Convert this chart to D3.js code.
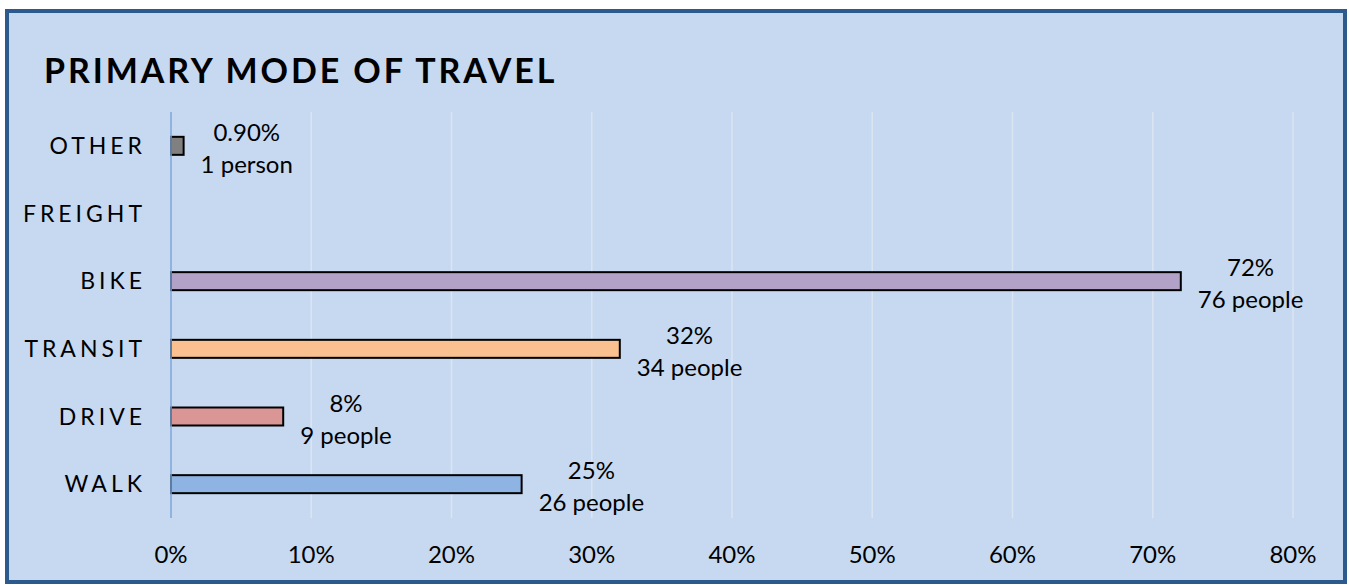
<!DOCTYPE html>
<html>
<head>
  <style>
    body { margin: 0; padding: 0; background: #ffffff; font-family: Lato, "Open Sans", sans-serif; }
    #chart { width: 1349px; height: 585px; }
  </style>
</head>
<body>
  <div id="chart"></div>
  <script src="https://cdnjs.cloudflare.com/ajax/libs/d3/7.8.5/d3.min.js"></script>
  <script>
    // data
    const categories = ['OTHER', 'FREIGHT', 'BIKE', 'TRANSIT', 'DRIVE', 'WALK'];
    const shares = [0.9, 0, 72, 32, 8, 25];
    const pctLabels = ['0.90%', '', '72%', '32%', '8%', '25%'];
    const peopleLabels = ['1 person', '', '76 people', '34 people', '9 people', '26 people'];
    const barColors = ['#808080', '#b3a2c7', '#b3a2c7', '#fac090', '#d99694', '#8eb4e3'];
    const ticks = [0, 10, 20, 30, 40, 50, 60, 70, 80];

    const width = 1349, height = 585;
    const svg = d3.select('#chart').append('svg')
      .attr('width', width)
      .attr('height', height);

    // frame
    svg.append('rect')
      .attr('x', 7).attr('y', 11)
      .attr('width', 1338).attr('height', 571)
      .attr('fill', '#c6d9f1')
      .attr('stroke', '#2c5a8c')
      .attr('stroke-width', 4);

    svg.append('text')
      .attr('x', 44).attr('y', 83)
      .attr('font-size', 34)
      .attr('font-weight', 'bold')
      .attr('letter-spacing', 2.9)
      .attr('fill', '#000')
      .text('PRIMARY MODE OF TRAVEL');

    const x = d3.scaleLinear().domain([0, 80]).range([171, 1293]);
    const y = d3.scaleBand().domain(categories).range([112, 518]);
    const mid = d => y(d) + y.bandwidth() / 2;

    // gridlines
    svg.append('g').selectAll('line')
      .data(ticks.slice(1))
      .join('line')
      .attr('x1', d => x(d)).attr('x2', d => x(d))
      .attr('y1', 112).attr('y2', 518)
      .attr('stroke', '#dbe5f2')
      .attr('stroke-width', 1.5);

    // tick labels
    svg.append('g').selectAll('text')
      .data(ticks)
      .join('text')
      .attr('x', d => x(d))
      .attr('y', 563)
      .attr('text-anchor', 'middle')
      .attr('font-size', 24)
      .attr('fill', '#000')
      .text(d => d + '%');

    // category labels
    svg.append('g').selectAll('text')
      .data(categories)
      .join('text')
      .attr('x', 146)
      .attr('y', d => mid(d) + 8)
      .attr('text-anchor', 'end')
      .attr('font-size', 23)
      .attr('letter-spacing', 4)
      .attr('fill', '#000')
      .text(d => d);

    // bars
    const barH = 18;
    const shown = categories.filter((c, i) => shares[i] > 0);
    svg.append('g').selectAll('rect')
      .data(shown)
      .join('rect')
      .attr('x', x(0))
      .attr('y', d => mid(d) - barH / 2)
      .attr('width', d => x(shares[categories.indexOf(d)]) - x(0))
      .attr('height', barH)
      .attr('fill', d => barColors[categories.indexOf(d)])
      .attr('stroke', '#000')
      .attr('stroke-width', 2);

    // axis line at 0
    svg.append('line')
      .attr('x1', x(0)).attr('x2', x(0))
      .attr('y1', 112).attr('y2', 518)
      .attr('stroke', '#7ea6d8')
      .attr('stroke-width', 1.5);

    // value labels: two centred lines, box starts a little right of the bar end
    const lbl = svg.append('g').selectAll('g')
      .data(shown)
      .join('g');
    lbl.append('text')
      .attr('class', 'l1')
      .attr('y', -5)
      .attr('text-anchor', 'middle')
      .attr('font-size', 24)
      .attr('fill', '#000')
      .text(d => pctLabels[categories.indexOf(d)]);
    lbl.append('text')
      .attr('class', 'l2')
      .attr('y', 27)
      .attr('text-anchor', 'middle')
      .attr('font-size', 24)
      .attr('fill', '#000')
      .text(d => peopleLabels[categories.indexOf(d)]);
    lbl.attr('transform', function(d) {
      const i = categories.indexOf(d);
      const w = Math.max(
        d3.select(this).select('.l1').node().getComputedTextLength(),
        d3.select(this).select('.l2').node().getComputedTextLength());
      return `translate(${x(shares[i]) + 17 + w / 2},${mid(d)})`;
    });
  </script>
</body>
</html>
